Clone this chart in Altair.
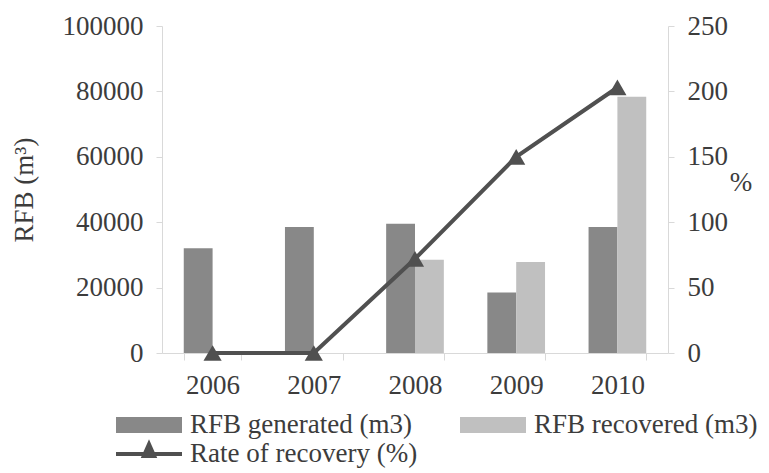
import altair as alt
import pandas as pd

years = ["2006", "2007", "2008", "2009", "2010"]
generated = [32000, 38500, 39500, 18500, 38500]
recovered = [0, 0, 28500, 27800, 78400]
rate = [0, 0, 72, 150, 203]

series_names = ["RFB generated (m3)", "RFB recovered (m3)"]
line_name = "Rate of recovery (%)"

rows = []
for y, g, r in zip(years, generated, recovered):
    rows.append({"year": y, "series": series_names[0], "value": g})
    rows.append({"year": y, "series": series_names[1], "value": r})
bars_df = pd.DataFrame(rows)
line_df = pd.DataFrame({"year": years, "rate": rate, "lseries": [line_name] * len(years)})

FONT = "Liberation Serif"
TXT = "#3c3c3c"
FS = 27

xscale = alt.Scale(domain=years, paddingInner=0.43, paddingOuter=0.215)
xaxis = alt.Axis(title=None, tickBand="extent", labelAngle=0, labelPadding=12, tickSize=7)

rect_path = "M-1,-0.24L1,-0.24L1,0.24L-1,0.24Z"
line_path = "M-1,-0.06L1,-0.06L1,0.06L-1,0.06ZM-0.25,0.12L0,-0.45L0.25,0.12Z"

bars = alt.Chart(bars_df).mark_bar().encode(
    x=alt.X("year:N", scale=xscale, axis=xaxis, sort=years),
    xOffset=alt.XOffset("series:N", sort=series_names),
    y=alt.Y("value:Q", scale=alt.Scale(domain=[0, 100000]),
            axis=alt.Axis(title="RFB (m³)", values=[0, 20000, 40000, 60000, 80000, 100000],
                          format="d", orient="left", labelPadding=13, tickSize=6, titlePadding=24)),
    color=alt.Color("series:N", sort=series_names,
                    scale=alt.Scale(domain=series_names, range=["#888888", "#c0c0c0"]),
                    legend=alt.Legend(title=None, orient="none", legendX=-46, legendY=366,
                                      columns=2, columnPadding=48, symbolType=rect_path,
                                      symbolSize=4356, symbolStrokeWidth=0, labelOffset=8,
                                      padding=0)),
)

line = alt.Chart(line_df).mark_line(strokeWidth=4).encode(
    x=alt.X("year:N", scale=xscale, axis=xaxis, sort=years),
    y=alt.Y("rate:Q", scale=alt.Scale(domain=[0, 250]),
            axis=alt.Axis(title="%", values=[0, 50, 100, 150, 200, 250], orient="right",
                          labelPadding=13, tickSize=6, titleAngle=0, titlePadding=13,
                          titleY=156, titleBaseline="middle")),
    color=alt.Color("lseries:N", scale=alt.Scale(domain=[line_name], range=["#505050"]),
                    legend=alt.Legend(title=None, orient="none", legendX=-46, legendY=395,
                                      symbolType=line_path, symbolSize=4356, labelOffset=8,
                                      padding=0, symbolFillColor="#505050",
                                      symbolStrokeWidth=0, symbolOpacity=1)),
)

points = alt.Chart(line_df).mark_point(shape="triangle-up", filled=True, size=330,
                                       color="#505050", opacity=1).encode(
    x=alt.X("year:N", scale=xscale, axis=xaxis, sort=years),
    y=alt.Y("rate:Q", scale=alt.Scale(domain=[0, 250])),
)

chart = alt.layer(bars, alt.layer(line, points)).resolve_scale(
    y="independent", color="independent"
).properties(
    width=506, height=327,
    autosize=alt.AutoSizeParams(type="none"),
    padding={"left": 154, "top": 18, "right": 93, "bottom": 116},
).configure_view(stroke=None).configure_axis(
    domainColor="#d9d9d9", tickColor="#d9d9d9", grid=False,
    labelFont=FONT, labelFontSize=FS, labelColor=TXT,
    titleFont=FONT, titleFontSize=FS, titleColor=TXT, titleFontWeight="normal",
).configure_legend(
    labelFont=FONT, labelFontSize=FS, labelColor=TXT, labelLimit=400,
)

chart.save("out.html", embed_options={"renderer": "svg", "actions": False})
